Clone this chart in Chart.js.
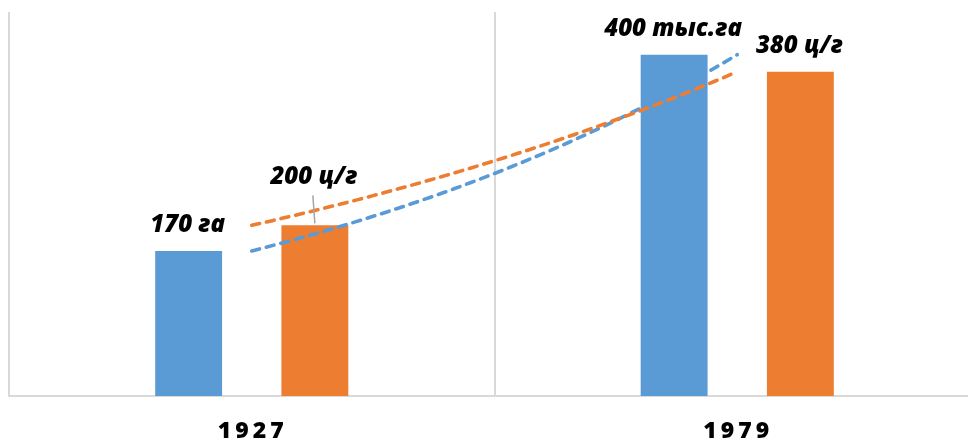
<!DOCTYPE html>
<html>
<head>
<meta charset="utf-8">
<script src="https://cdn.jsdelivr.net/npm/chart.js@4.4.1/dist/chart.umd.min.js"></script>
<style>
  html, body { margin: 0; padding: 0; background: #fff; overflow: hidden; }
  #wrap { position: absolute; left: 0; top: 0; width: 990px; height: 443px; }
</style>
</head>
<body>
<div id="wrap"><canvas id="canvas" width="990" height="443"></canvas></div>
<script>
const years = ['1927', '1979'];
const area = [170, 400];
const yieldHa = [200, 380];
const areaLabels = ['170 га', '400 тыс.га'];
const yieldLabels = ['200 ц/г', '380 ц/г'];
const yMax = 450;

const blue = '#5b9bd5';
const orange = '#ed7d31';
const ctx = document.getElementById('canvas');

// exponential trendline (like Excel), fitted on ln(y) against 1..n
function expFit(vals) {
  const n = vals.length;
  let sx = 0, sy = 0, sxx = 0, sxy = 0;
  vals.forEach((v, i) => {
    const x = i + 1, y = Math.log(v);
    sx += x; sy += y; sxx += x * x; sxy += x * y;
  });
  const b = (n * sxy - sx * sy) / (n * sxx - sx * sx);
  const a = Math.exp((sy - b * sx) / n);
  return (x) => a * Math.exp(b * x);
}

const trendPlugin = {
  id: 'trend',
  afterDatasetsDraw(chart) {
    const c = chart.ctx;
    const xs = chart.scales.x, ys = chart.scales.y;
    const x0 = xs.getPixelForValue(0), x1 = xs.getPixelForValue(years.length - 1);
    chart.data.datasets.forEach((ds) => {
      const f = expFit(ds.data);
      c.save();
      c.strokeStyle = ds.backgroundColor;
      c.lineWidth = 3.6;
      c.setLineDash([8, 7]);
      c.lineCap = 'round';
      c.beginPath();
      for (let k = 0; k <= 60; k++) {
        const t = k / 60;
        const px = x0 + t * (x1 - x0);
        const py = ys.getPixelForValue(f(1 + t * (years.length - 1)));
        if (k === 0) c.moveTo(px, py); else c.lineTo(px, py);
      }
      c.stroke();
      c.restore();
    });
  },
};

const labelPlugin = {
  id: 'labels',
  afterDraw(chart) {
    const c = chart.ctx;
    const texts = [areaLabels, yieldLabels];
    c.save();
    c.font = 'italic 800 24px "Open Sans"';
    c.fillStyle = '#000';
    c.textAlign = 'center';
    c.textBaseline = 'middle';
    chart.data.datasets.forEach((ds, i) => {
      chart.getDatasetMeta(i).data.forEach((bar, j) => {
        let lift = 26;
        if (i === 1 && j === 0) {
          lift = 48;
          c.strokeStyle = '#a6a6a6';
          c.lineWidth = 1.5;
          c.beginPath();
          c.moveTo(bar.x - 2, bar.y - 30);
          c.lineTo(bar.x, bar.y - 2);
          c.stroke();
        }
        c.fillText(texts[i][j], bar.x - 1, bar.y - lift);
      });
    });
    // category labels
    const xs = chart.scales.x;
    c.font = '800 23px "Open Sans"';
    c.letterSpacing = '4px';
    years.forEach((y, j) => {
      c.fillText(y, xs.getPixelForValue(j) + 1, 431);
    });
    c.restore();
  },
};

new Chart(ctx, {
  type: 'bar',
  data: {
    labels: years,
    datasets: [
      { data: area, backgroundColor: blue },
      { data: yieldHa, backgroundColor: orange },
    ],
  },
  options: {
    responsive: false,
    animation: false,
    devicePixelRatio: 1,
    categoryPercentage: 0.52,
    barPercentage: 0.53,
    layout: { padding: { left: 9, right: 10, top: 12, bottom: 47 } },
    plugins: {
      legend: { display: false },
      tooltip: { enabled: false },
    },
    scales: {
      x: {
        ticks: { display: false },
        grid: { color: '#d9d9d9', lineWidth: 2, drawTicks: false },
        border: { color: '#d9d9d9', width: 2 },
      },
      y: {
        display: false,
        min: 0,
        max: yMax,
      },
    },
  },
  plugins: [trendPlugin, labelPlugin],
});
</script>
</body>
</html>
